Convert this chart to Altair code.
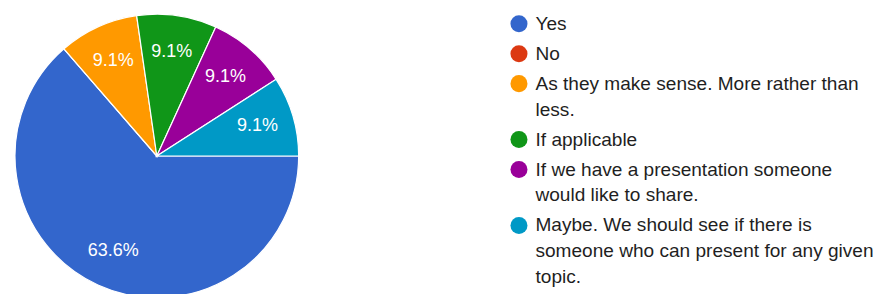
import altair as alt
import pandas as pd

categories = [
    "Yes",
    "No",
    "As they make sense. More rather than\nless.",
    "If applicable",
    "If we have a presentation someone\nwould like to share.",
    "Maybe. We should see if there is\nsomeone who can present for any given\ntopic.",
]
counts = [7, 0, 1, 1, 1, 1]
colors = ["#3366cc", "#dc3912", "#ff9900", "#109618", "#990099", "#0099c6"]

total = sum(counts)
df = pd.DataFrame({
    "answer": categories,
    "count": counts,
    "order": list(range(len(categories))),
    "pct": [f"{c / total * 100:.1f}%" if c else "" for c in counts],
})

pi = 3.141592653589793
theta = alt.Theta("count:Q", stack=True, scale=alt.Scale(range=[pi / 2, pi / 2 + 2 * pi]))
color = alt.Color(
    "answer:N",
    scale=alt.Scale(domain=categories, range=colors),
    legend=alt.Legend(
        title=None,
        orient="none",
        legendX=495,
        legendY=0,
        symbolType="circle",
        symbolSize=290,
        symbolStrokeWidth=0,
        labelFont="Liberation Sans",
        labelFontSize=19.1,
        labelColor="#1f1f1f",
        labelLimit=500,
        labelOffset=7,
        rowPadding=10,
        labelExpr="split(datum.label, '\\n')",
    ),
)

base = alt.Chart(df)
arcs = base.mark_arc(radius=142, stroke="white", strokeWidth=1.2).encode(
    theta=theta, color=color, order=alt.Order("order:Q")
)
labels = base.mark_text(
    radius=105, font="Liberation Sans", fontSize=18, color="white"
).encode(theta=theta, text="pct:N", order=alt.Order("order:Q"))

chart = (
    alt.layer(arcs, labels)
    .properties(
        width=284,
        height=284,
        padding={"left": 7, "top": 6, "right": 576, "bottom": 0},
        autosize=alt.AutoSizeParams(type="none"),
    )
    .configure_view(stroke=None)
    .configure(style={"guide-label": {"lineHeight": 26}})
)
chart.save("out.html", embed_options={"renderer": "svg", "actions": False})
